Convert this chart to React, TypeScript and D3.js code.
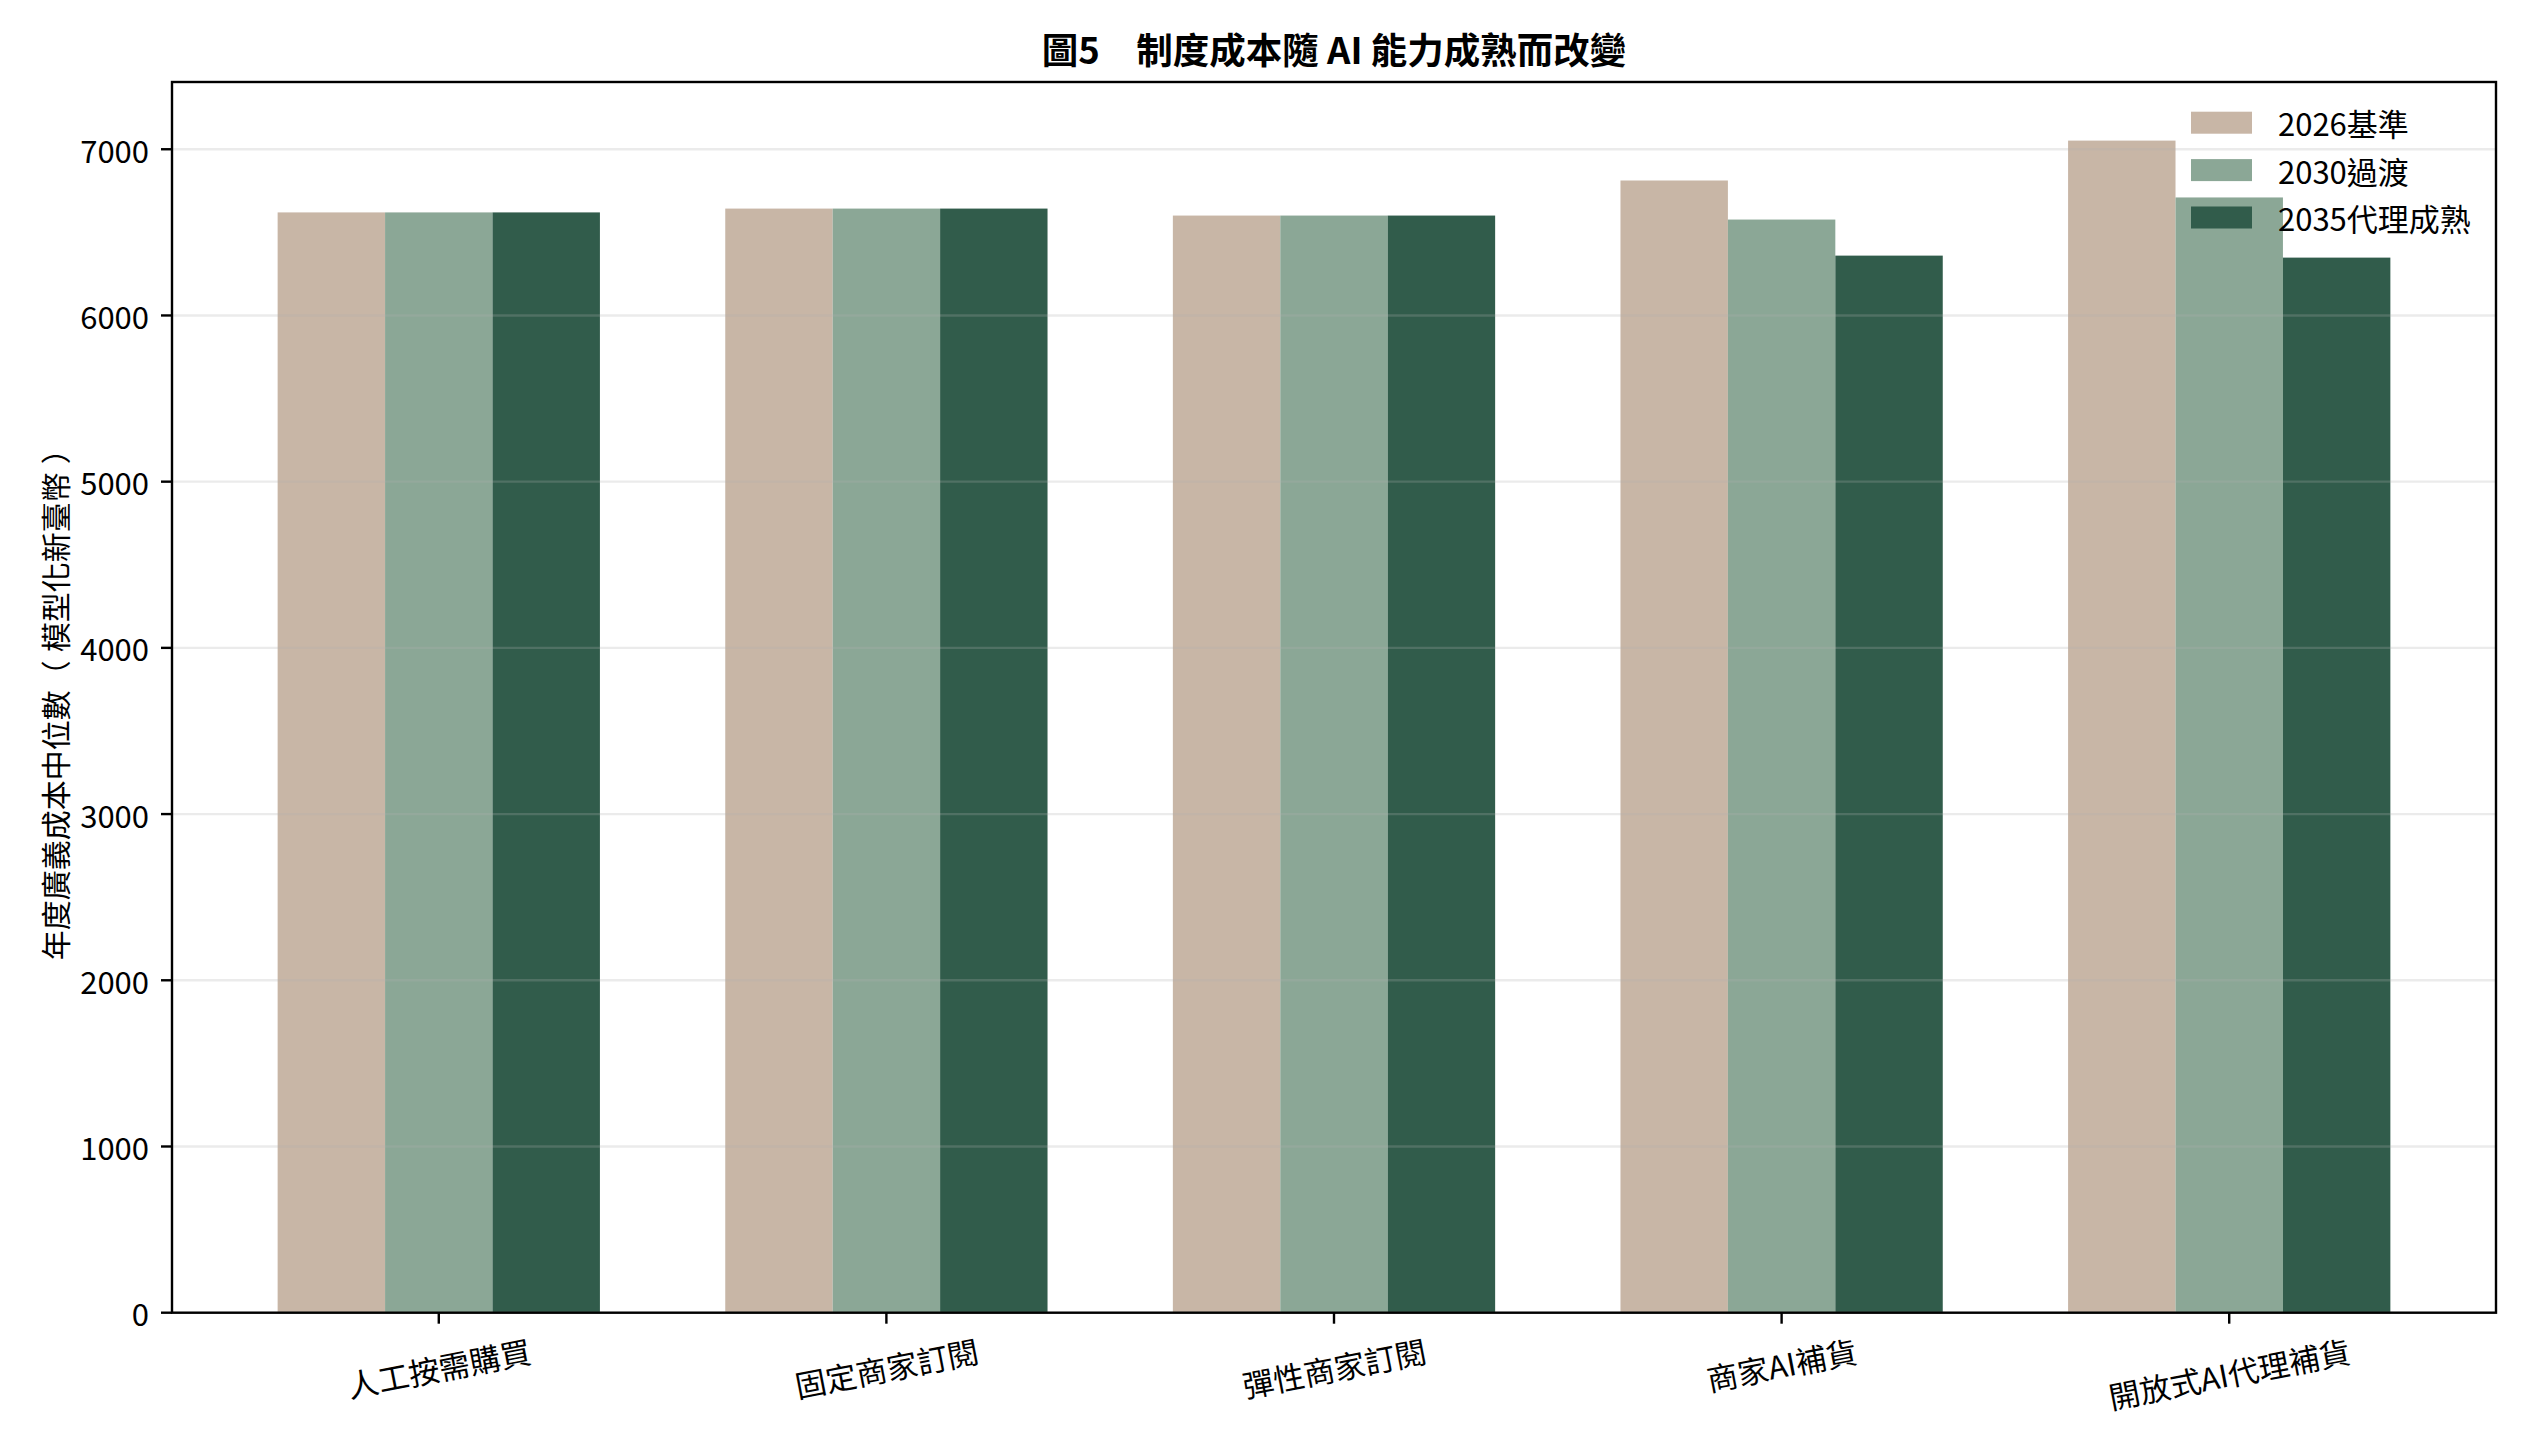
import React, { useEffect, useRef } from "react";
import * as d3 from "d3";

const categories = ["人工按需購買", "固定商家訂閱", "彈性商家訂閱", "商家AI補貨", "開放式AI代理補貨"];
const seriesNames = ["2026基準", "2030過渡", "2035代理成熟"];
const values2026 = [6620, 6643, 6601, 6812, 7052];
const values2030 = [6620, 6643, 6601, 6577, 6710];
const values2035 = [6620, 6643, 6601, 6360, 6348];
const yTicks = [0, 1000, 2000, 3000, 4000, 5000, 6000, 7000];
const colors = ["#C8B6A6", "#8BA796", "#315C4B"];
const title = "圖5　制度成本隨 AI 能力成熟而改變";
const yLabelParts = ["年度廣義成本中位數", "（", "模型化新臺幣", "）"];

const W = 2530;
const H = 1452;
const FONT = "'Noto Sans CJK TC', 'Noto Sans', sans-serif";

export default function App() {
  const ref = useRef<SVGSVGElement | null>(null);

  useEffect(() => {
    const svg = d3.select(ref.current!);
    svg.selectAll("*").remove();

    const left = 172, right = 2496, top = 82, bottom = 1312.7;
    const series = [values2026, values2030, values2035];
    const bw = 0.24;
    const dMin = -1.5 * bw, dMax = categories.length - 1 + 1.5 * bw;
    const pad = 0.05 * (dMax - dMin);
    const x = d3.scaleLinear().domain([dMin - pad, dMax + pad]).range([left, right]);
    const yMax = d3.max(series.flat())! * 1.05;
    const y = d3.scaleLinear().domain([0, yMax]).range([bottom, top]);

    svg.append("rect").attr("x", 0).attr("y", 0).attr("width", W).attr("height", H).attr("fill", "#ffffff");

    // bars
    series.forEach((vals, si) => {
      svg.append("g")
        .selectAll("rect")
        .data(vals)
        .join("rect")
        .attr("x", (_d, i) => x(i + (si - 1) * bw - bw / 2))
        .attr("width", x(bw) - x(0))
        .attr("y", (d) => y(d))
        .attr("height", (d) => y(0) - y(d))
        .attr("fill", colors[si]);
    });

    // grid (drawn above bars, translucent)
    svg.append("g")
      .selectAll("line")
      .data(yTicks)
      .join("line")
      .attr("x1", left).attr("x2", right)
      .attr("y1", (d) => y(d)).attr("y2", (d) => y(d))
      .attr("stroke", "#b0b0b0")
      .attr("stroke-opacity", 0.25)
      .attr("stroke-width", 2.4);

    // spines
    svg.append("rect")
      .attr("x", left).attr("y", top)
      .attr("width", right - left).attr("height", bottom - top)
      .attr("fill", "none").attr("stroke", "#000").attr("stroke-width", 2.4);

    // y ticks
    const yg = svg.append("g");
    yTicks.forEach((t) => {
      yg.append("line").attr("x1", left - 11).attr("x2", left).attr("y1", y(t)).attr("y2", y(t))
        .attr("stroke", "#000").attr("stroke-width", 2.4);
      yg.append("text").attr("x", left - 23).attr("y", y(t))
        .attr("text-anchor", "end").attr("dominant-baseline", "central")
        .attr("font-family", FONT).attr("font-size", 31).attr("fill", "#000")
        .text(d3.format("d")(t));
    });

    // x ticks
    const rot = 11;
    const rad = (rot * Math.PI) / 180;
    const xg = svg.append("g");
    categories.forEach((c, i) => {
      const cx = x(i);
      xg.append("line").attr("x1", cx).attr("x2", cx).attr("y1", bottom).attr("y2", bottom + 11)
        .attr("stroke", "#000").attr("stroke-width", 2.4);
      const t = xg.append("text")
        .attr("text-anchor", "middle").attr("dominant-baseline", "central")
        .attr("font-family", FONT).attr("font-size", 31).attr("fill", "#000")
        .text(c);
      const w = (t.node() as SVGTextElement).getComputedTextLength();
      const inkH = 28;
      const cy = bottom + 23 + (w * Math.sin(rad) + inkH * Math.cos(rad)) / 2;
      t.attr("transform", `translate(${cx},${cy}) rotate(${-rot})`);
    });

    // y label
    const yl = svg.append("text")
      .attr("transform", `translate(54,${(top + bottom) / 2}) rotate(-90)`)
      .attr("text-anchor", "middle").attr("dominant-baseline", "central")
      .attr("font-family", FONT).attr("font-size", 30).attr("fill", "#000");
    const gaps = [0, 0, 8, 8];
    yLabelParts.forEach((p, i) => {
      yl.append("tspan").attr("dx", gaps[i]).text(p);
    });

    // title
    svg.append("text")
      .attr("x", (left + right) / 2).attr("y", 48)
      .attr("text-anchor", "middle").attr("dominant-baseline", "central")
      .attr("font-family", FONT).attr("font-size", 36.5).attr("font-weight", "bold").attr("fill", "#000")
      .text(title);

    // legend
    const lg = svg.append("g");
    seriesNames.forEach((n, i) => {
      const cy = 122.7 + i * 47.4;
      lg.append("rect").attr("x", 2191).attr("y", cy - 11).attr("width", 61).attr("height", 22).attr("fill", colors[i]);
      lg.append("text").attr("x", 2278).attr("y", cy)
        .attr("dominant-baseline", "central")
        .attr("font-family", FONT).attr("font-size", 31).attr("fill", "#000")
        .text(n);
    });
  }, []);

  return (
    <svg
      ref={ref}
      width={W}
      height={H}
      style={{ position: "absolute", left: 0, top: 0, display: "block" }}
    />
  );
}
